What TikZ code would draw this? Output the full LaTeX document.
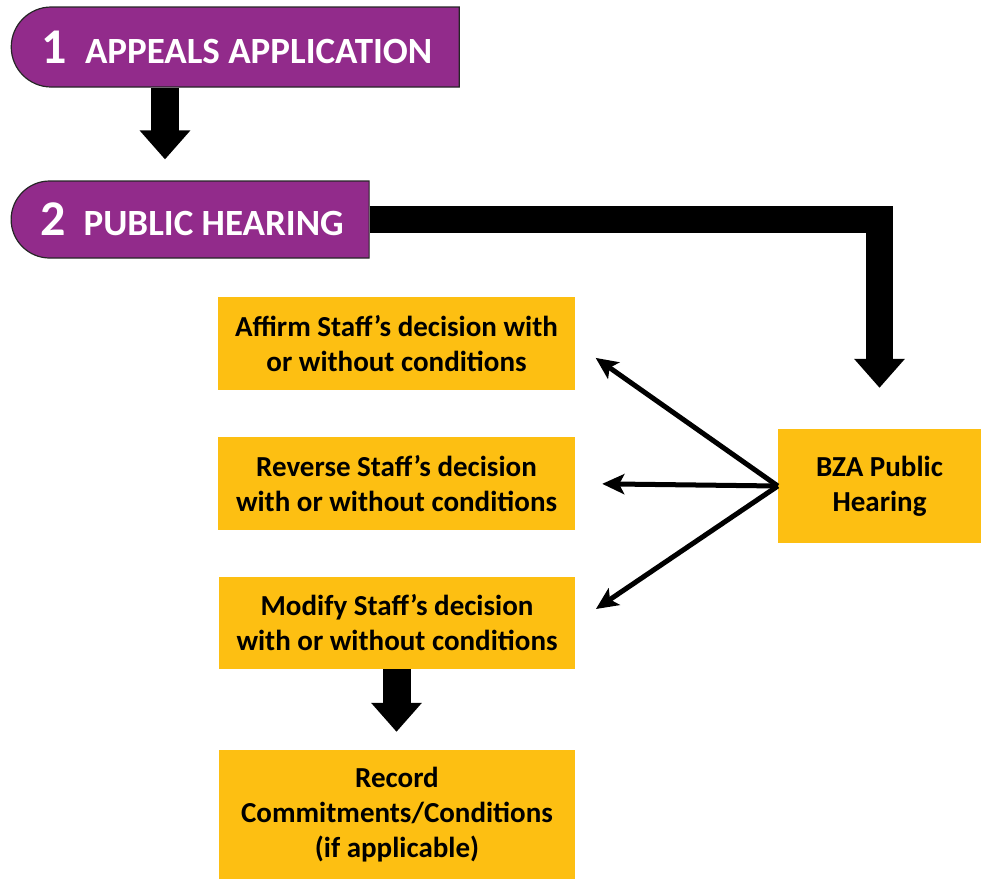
\documentclass[tikz,border=0pt]{standalone}
\usepackage{fontspec}
\setmainfont{Carlito}
\usetikzlibrary{shapes.misc,arrows.meta}
\definecolor{purp}{HTML}{922B8B}
\definecolor{gold}{HTML}{FDBF12}
\begin{document}
\begin{tikzpicture}[x=1pt,y=-1pt,
  phase/.style={rounded rectangle, rounded rectangle right arc=none, fill=purp, draw=black!85, line width=1.2pt,
    text=white, font=\bfseries\fontsize{37}{40}\selectfont, inner sep=0pt},
  obox/.style={fill=gold, draw=none, inner sep=0pt, align=center, font=\bfseries\fontsize{29}{35}\selectfont},
  bigarrow/.style={line width=28pt, -{Triangle[length=29pt,width=49pt]}},
  thinarrow/.style={line width=5pt, -{Stealth[length=22pt,width=20pt,inset=5pt]}}
]
\useasboundingbox (0,0) rectangle (981,879);
\node[phase, minimum width=448pt, minimum height=80pt] (p1) at (237,47)
  {{\fontsize{50}{50}\selectfont 1}\hspace{18pt}APPEALS APPLICATION};
\node[phase, minimum width=358pt, minimum height=77pt] (p2) at (192,219.5)
  {{\fontsize{50}{50}\selectfont 2}\hspace{18pt}PUBLIC HEARING};
\node[obox, minimum width=357pt, minimum height=93pt] (aff) at (396.5,343.5)
  {Affirm Staff’s decision with\\or without conditions};
\node[obox, minimum width=357pt, minimum height=93pt] (rev) at (396.5,483.5)
  {Reverse Staff’s decision\\with or without conditions};
\node[obox, minimum width=356pt, minimum height=92pt] (mod) at (397,623)
  {Modify Staff’s decision\\with or without conditions};
\node[obox, minimum width=356pt, minimum height=129pt] (rec) at (397,814.5)
  {Record\\Commitments/Conditions\\(if applicable)};
\node[obox, minimum width=203pt, minimum height=114pt] (bza) at (879.5,486)
  {BZA Public\\Hearing};
\coordinate (c1) at (165,0);
\coordinate (c2) at (396.5,0);
\draw[bigarrow] (p1.south -| c1) -- (p2.north -| c1) [shorten >=21pt];
\draw[bigarrow, line width=27pt, line join=miter] (p2.east) -| (bza.north) [shorten >=41pt];
\draw[bigarrow] (mod.south -| c2) -- (rec.north -| c2) [shorten >=18pt];
\draw[thinarrow, shorten >=25pt] (bza.west) -- (aff.east);
\draw[thinarrow, shorten >=27pt] (bza.west) -- (rev.east);
\draw[thinarrow, shorten >=25pt] (bza.west) -- (mod.east);
\end{tikzpicture}
\end{document}
